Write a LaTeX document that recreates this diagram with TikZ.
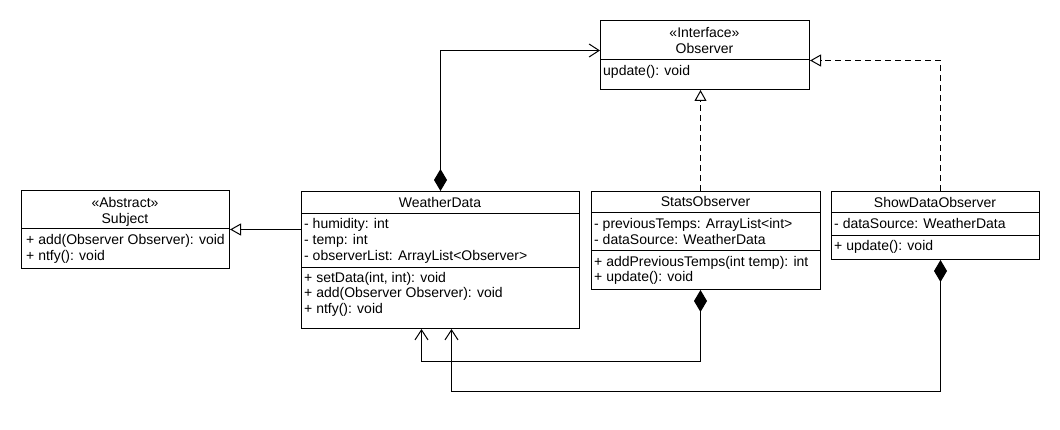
\documentclass[tikz,border=0pt]{standalone}
\usepackage{fontspec}
\setmainfont{Liberation Sans}
\usetikzlibrary{arrows.meta}

\tikzset{
  classbox/.style={draw, line width=1pt, inner sep=0pt, anchor=north west},
  member/.style={anchor=base west, inner sep=0pt},
  classname/.style={anchor=base, inner sep=0pt},
  compose/.style={line width=1pt, arrows={Diamond[length=22pt,width=13pt]-Straight Barb[length=10pt,width=13pt]}},
  realize/.style={line width=1pt, dash pattern=on 6pt off 4pt, -{Triangle[open,length=11pt,width=12pt]}},
  inherit/.style={line width=1pt, -{Triangle[open,length=11pt,width=12pt]}},
}

\begin{document}
\begin{tikzpicture}[x=1pt, y=-1pt, font=\fontsize{14pt}{16pt}\selectfont]
    \path[use as bounding box, fill=white] (0,0) rectangle (1060,430);

    % Observer
    \node[classbox, minimum width=209pt, minimum height=69pt] (obs) at (600,20) {};
    \draw[line width=1pt] (obs.north west) ++(0,40) -- ++(209,0);
    \node[classname] (obs-st) at (704.5,38) {«Interface»};
    \node[classname] (obs-n) at (704.5,54) {Observer};
    \node[member] (obs-m1) at (603,76) {update(): void};

    % Subject
    \node[classbox, minimum width=208pt, minimum height=78pt] (subj) at (21,190) {};
    \draw[line width=1pt] (subj.north west) ++(0,39) -- ++(208,0);
    \node[classname] (subj-st) at (125,208) {«Abstract»};
    \node[classname] (subj-n) at (125,224) {Subject};
    \foreach \t [count=\i] in {{+ add(Observer Observer): void},{+ ntfy(): void}}
    \node[member] (subj-m\i) at (26,229+16*\i) {\t};

    % WeatherData
    \node[classbox, minimum width=278pt, minimum height=137pt] (wd) at (301,191) {};
    \draw[line width=1pt] (wd.north west) ++(0,23) -- ++(278,0);
    \draw[line width=1pt] (wd.north west) ++(0,77) -- ++(278,0);
    \node[classname] (wd-n) at (440,208) {WeatherData};
    \foreach \t [count=\i] in {{- humidity: int},{- temp: int},{- observerList: ArrayList<Observer>}}
    \node[member] (wd-a\i) at (304,213+16*\i) {\t};
    \foreach \t [count=\i] in {{+ setData(int, int): void},{+ add(Observer Observer): void},{+ ntfy(): void}}
    \node[member] (wd-m\i) at (304,267+15.5*\i) {\t};

    % StatsObserver
    \node[classbox, minimum width=229pt, minimum height=98pt] (stats) at (591,191) {};
    \draw[line width=1pt] (stats.north west) ++(0,22) -- ++(229,0);
    \draw[line width=1pt] (stats.north west) ++(0,60) -- ++(229,0);
    \node[classname] (stats-n) at (705.5,207) {StatsObserver};
    \foreach \t [count=\i] in {{- previousTemps: ArrayList<int>},{- dataSource: WeatherData}}
    \node[member] (stats-a\i) at (594,213+16*\i) {\t};
    \foreach \t [count=\i] in {{+ addPreviousTemps(int temp): int},{+ update(): void}}
    \node[member] (stats-m\i) at (594,251+15.5*\i) {\t};

    % ShowDataObserver
    \node[classbox, minimum width=208pt, minimum height=68pt] (show) at (831,191) {};
    \draw[line width=1pt] (show.north west) ++(0,22) -- ++(208,0);
    \draw[line width=1pt] (show.north west) ++(0,45) -- ++(208,0);
    \node[classname] (show-n) at (935,208) {ShowDataObserver};
    \node[member] (show-a1) at (834,229) {- dataSource: WeatherData};
    \node[member] (show-m1) at (834,251) {+ update(): void};

    % relations
    \draw[compose] (wd.north) |- ([yshift=4.5pt]obs.west);
    \draw[realize] ([xshift=-5.5pt]stats.north) -- ([xshift=-5.5pt]stats.north |- obs.south);
    \draw[realize] ([xshift=5pt]show.north) |- ([yshift=-5.5pt]obs.east);
    \draw[inherit] (wd.west |- subj.east) -- (subj.east);
    \draw[compose] ([xshift=-5.5pt]stats.south) -- ++(0,71) -| ([xshift=-19pt]wd.south);
    \draw[compose] ([xshift=5pt]show.south) -- ++(0,131) -| ([xshift=11pt]wd.south);

\end{tikzpicture}
\end{document}
